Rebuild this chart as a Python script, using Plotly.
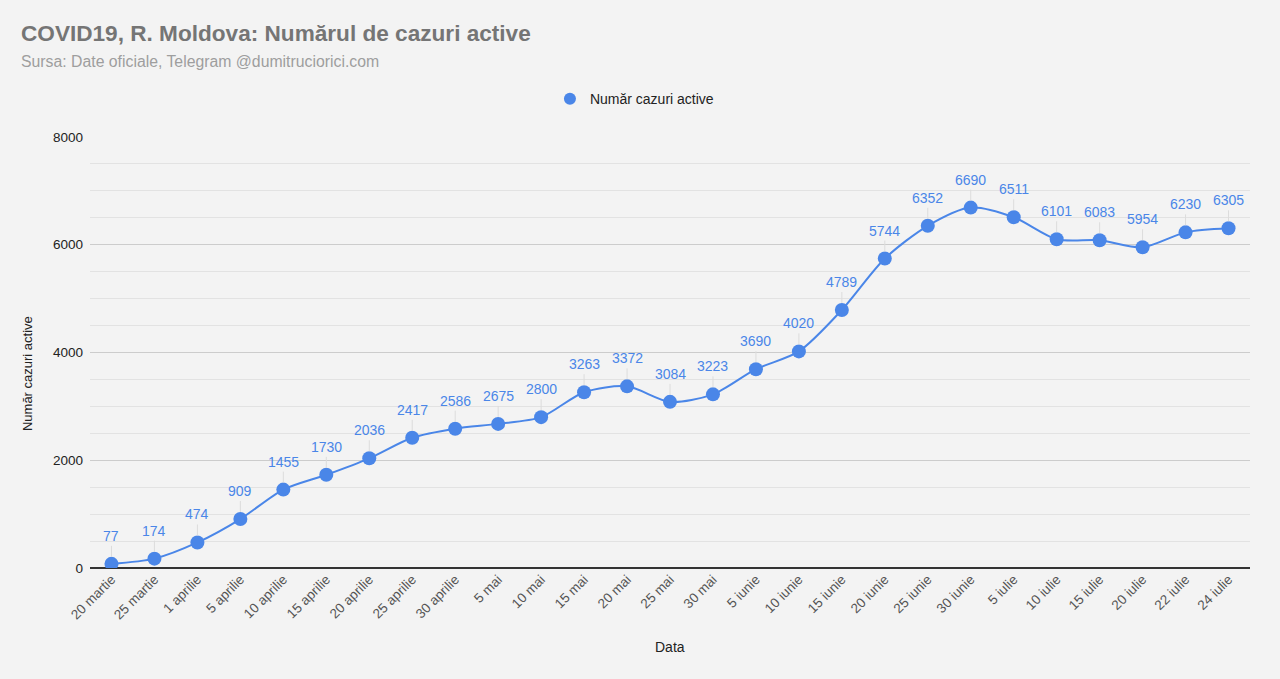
import plotly.graph_objects as go

dates = ["20 martie", "25 martie", "1 aprilie", "5 aprilie", "10 aprilie", "15 aprilie",
         "20 aprilie", "25 aprilie", "30 aprilie", "5 mai", "10 mai", "15 mai", "20 mai",
         "25 mai", "30 mai", "5 iunie", "10 iunie", "15 iunie", "20 iunie", "25 iunie",
         "30 iunie", "5 iulie", "10 iulie", "15 iulie", "20 iulie", "22 iulie", "24 iulie"]
active = [77, 174, 474, 909, 1455, 1730, 2036, 2417, 2586, 2675, 2800, 3263, 3372,
          3084, 3223, 3690, 4020, 4789, 5744, 6352, 6690, 6511, 6101, 6083, 5954, 6230, 6305]
y_ticks = [0, 2000, 4000, 6000, 8000]

BLUE = "#4a86e8"
BG = "#f3f3f3"
FONT = "Liberation Sans, Arial, sans-serif"
SERIES = "Număr cazuri active"

fig = go.Figure()
fig.add_trace(go.Scatter(
    x=dates, y=active, mode="lines+markers", name=SERIES, showlegend=False,
    line=dict(color=BLUE, width=2, shape="spline", smoothing=0.8),
    marker=dict(color=BLUE, size=14),
))
# legend entry showing only the circle marker
fig.add_trace(go.Scatter(
    x=[None], y=[None], mode="markers", name=SERIES, showlegend=True,
    marker=dict(color=BLUE, size=14),
))

annotations = []
for d, v in zip(dates, active):
    annotations.append(dict(
        x=d, y=v, xref="x", yref="y", text=str(v), showarrow=True,
        arrowhead=0, arrowwidth=1, arrowcolor="#dcdcdc", ax=0, ay=-18,
        standoff=7, font=dict(color=BLUE, size=14, family=FONT),
        yanchor="bottom",
    ))

annotations += [
    dict(text="<b>COVID19, R. Moldova: Numărul de cazuri active</b>", xref="paper", yref="paper",
         x=-0.0612, y=1.241, xanchor="left", yanchor="middle", showarrow=False,
         font=dict(size=22.6, color="#757575", family=FONT)),
    dict(text="Sursa: Date oficiale, Telegram @dumitruciorici.com", xref="paper", yref="paper",
         x=-0.0612, y=1.176, xanchor="left", yanchor="middle", showarrow=False,
         font=dict(size=15.8, color="#9e9e9e", family=FONT)),
    dict(text="Data", xref="paper", yref="paper", x=0.5, y=-0.183, xanchor="center",
         yanchor="middle", showarrow=False, font=dict(size=14, color="#222222", family=FONT)),
    dict(text="Număr cazuri active", xref="paper", yref="paper", x=-0.0543, y=0.45,
         xanchor="center", yanchor="middle", textangle=-90, showarrow=False,
         font=dict(size=13, color="#222222", family=FONT)),
]

fig.update_layout(
    width=1280, height=679,
    margin=dict(l=90, r=30, t=137, b=111),
    paper_bgcolor=BG, plot_bgcolor=BG,
    font=dict(family=FONT, size=13, color="#222222"),
    showlegend=True,
    legend=dict(orientation="h", x=0.3965, y=1.088, xanchor="left", yanchor="middle",
                bgcolor="rgba(0,0,0,0)", font=dict(size=14, color="#222222"),
                itemsizing="constant", itemwidth=30),
    annotations=annotations,
    xaxis=dict(
        type="category", range=[-0.5, len(dates) - 0.5], tickangle=-45,
        showgrid=False, showline=False, zeroline=False, ticks="",
        tickfont=dict(size=13.5, color="#555555"), automargin=False,
    ),
    yaxis=dict(
        range=[0, 8000], tickvals=y_ticks, ticktext=[str(t) for t in y_ticks],
        showgrid=True, gridcolor="#cccccc", gridwidth=1,
        minor=dict(dtick=500, showgrid=True, gridcolor="#e2e2e2", gridwidth=1),
        zeroline=True, zerolinecolor="#333333", zerolinewidth=2,
        showline=False, ticks="", ticklabelstandoff=6,
        tickfont=dict(size=13.5, color="#222222"), automargin=False,
    ),
)

fig.write_html("out.html")
